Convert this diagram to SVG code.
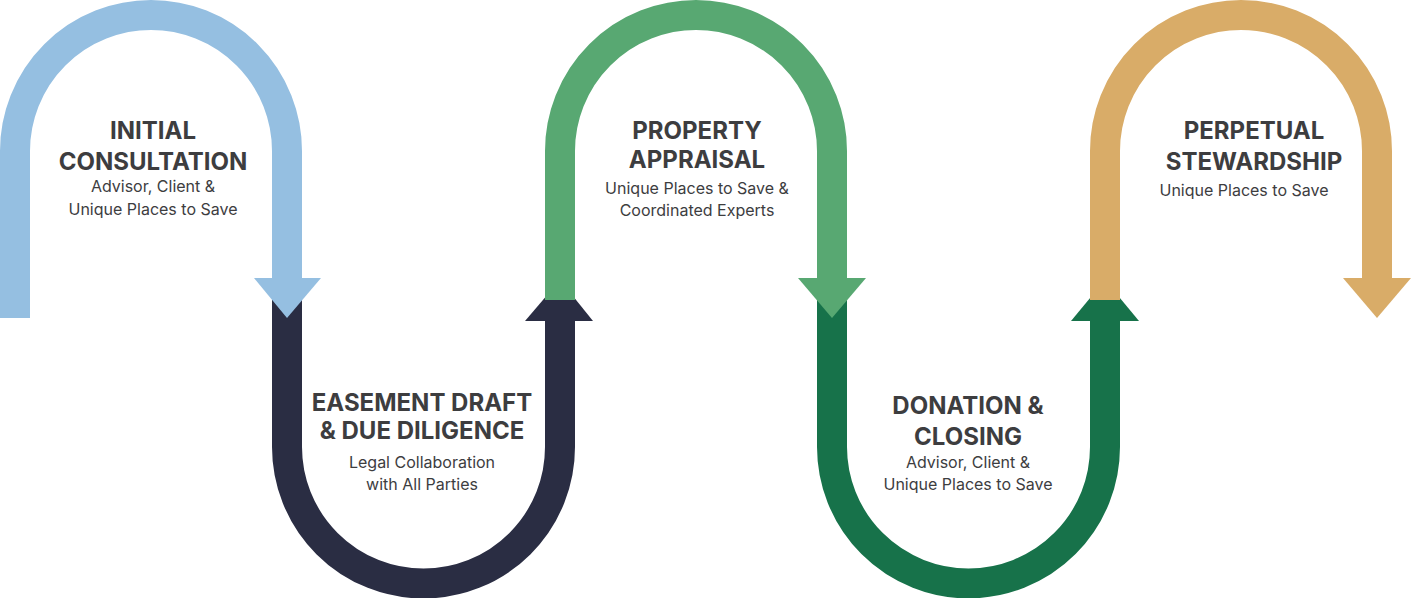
<svg xmlns="http://www.w3.org/2000/svg" width="1412" height="598" viewBox="0 0 1412 598">
<style>
.s{fill:none;stroke-width:30}
.t{font-family:Inter,"Open Sans",sans-serif;font-weight:700;font-size:24px;fill:#3d3d3f;text-anchor:middle}
.u{font-family:Inter,"Open Sans",sans-serif;font-size:16px;fill:#3d3d3f;text-anchor:middle}
</style>
<rect width="1412" height="598" fill="#fff"/>
<g id="connectors">
<path class="s" stroke="#2a2d43" d="M287 300V447A136.5 136.5 0 0 0 560 447V318"/>
<polygon fill="#2a2d43" points="525,321 593,321 560,280"/>
<path class="s" stroke="#17724a" d="M832 300V447A136.5 136.5 0 0 0 1105 447V318"/>
<polygon fill="#17724a" points="1071,321 1139,321 1105,280"/>
<path class="s" stroke="#95bfe1" d="M15 318V151A136 136 0 0 1 287 151V280"/>
<polygon fill="#95bfe1" points="254,278 321,278 287,318"/>
<path class="s" stroke="#58a872" d="M560 300V151A136 136 0 0 1 832 151V280"/>
<polygon fill="#58a872" points="798,278 866,278 832,318"/>
<path class="s" stroke="#d9ac68" d="M1105 300V151A136 136 0 0 1 1377 151V280"/>
<polygon fill="#d9ac68" points="1343,278 1411,278 1377,318"/>
</g>
<g id="n1"><text class="t" x="153" y="139">INITIAL</text><text class="t" x="153" y="170">CONSULTATION</text><text class="u" x="153" y="192">Advisor, Client &amp;</text><text class="u" x="153" y="215">Unique Places to Save</text></g>
<g id="n2"><text class="t" x="422" y="411">EASEMENT DRAFT</text><text class="t" x="422" y="439">&amp; DUE DILIGENCE</text><text class="u" x="422" y="468">Legal Collaboration</text><text class="u" x="422" y="490">with All Parties</text></g>
<g id="n3"><text class="t" x="697" y="139">PROPERTY</text><text class="t" x="697" y="168">APPRAISAL</text><text class="u" x="697" y="194">Unique Places to Save &amp;</text><text class="u" x="697" y="216">Coordinated Experts</text></g>
<g id="n4"><text class="t" x="968" y="414">DONATION &amp;</text><text class="t" x="968" y="445">CLOSING</text><text class="u" x="968" y="468">Advisor, Client &amp;</text><text class="u" x="968" y="490">Unique Places to Save</text></g>
<g id="n5"><text class="t" x="1254" y="139">PERPETUAL</text><text class="t" x="1254" y="170">STEWARDSHIP</text><text class="u" x="1244" y="196">Unique Places to Save</text></g>
</svg>
